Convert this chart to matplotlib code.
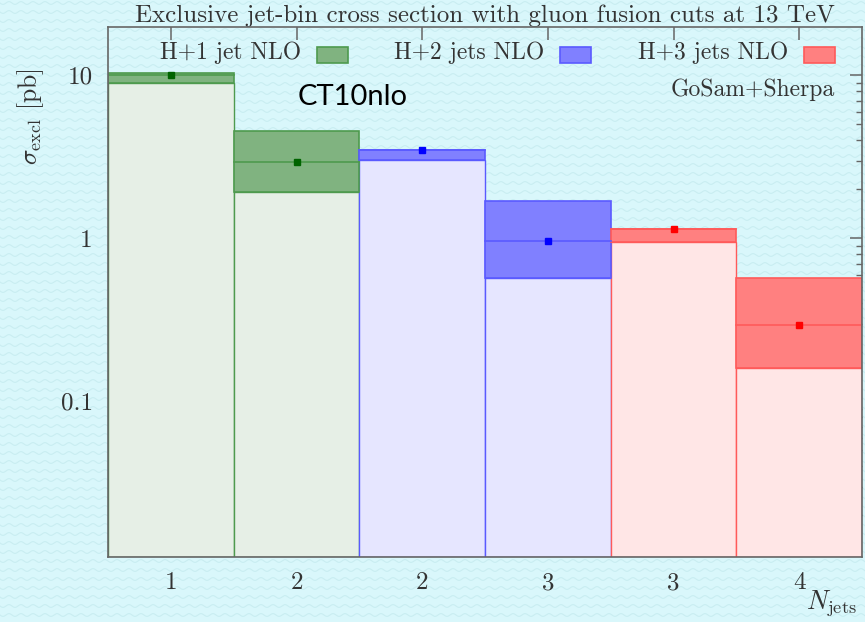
import numpy as np
import matplotlib
matplotlib.use("Agg")
import matplotlib.pyplot as plt
from matplotlib.patches import Rectangle
from matplotlib.ticker import FixedLocator, FixedFormatter, LogLocator, NullFormatter

plt.rcParams["font.family"] = ["cmr10", "DejaVu Serif"]
plt.rcParams["mathtext.fontset"] = "cm"
plt.rcParams["axes.unicode_minus"] = False

# data
bin_labels = ["1", "2", "2", "3", "3", "4"]
series_names = ["H+1 jet NLO", "H+2 jets NLO", "H+3 jets NLO"]
bin_series = [0, 0, 1, 1, 2, 2]
central = [10.07, 2.93, 3.48, 0.965, 1.14, 0.296]
upper = [10.4, 4.58, 3.49, 1.70, 1.135, 0.570]
lower = [9.03, 1.93, 3.03, 0.575, 0.956, 0.1605]

band_colors = ["#80b380", "#8080ff", "#ff8080"]
light_colors = ["#e6efe6", "#e6e6ff", "#ffe6e6"]
edge_colors = ["#4e9a4e", "#5a5aff", "#ff5a5a"]
mark_colors = ["#006400", "#0000ff", "#ff0000"]

ymin, ymax = 0.0111, 19.8

fig = plt.figure(figsize=(8.65, 6.22), dpi=100)
fig.patch.set_facecolor("#d9f7fb")

# wavy background
bg = fig.add_axes([0, 0, 1, 1], zorder=-5)
bg.set_xlim(0, 865)
bg.set_ylim(622, 0)
bg.axis("off")
xs = np.linspace(0, 865, 1200)
for y0 in np.arange(3, 630, 9):
    bg.plot(xs, y0 + 1.4 * np.sin(2 * np.pi * xs / 12.0), color="#c9edf1", lw=0.8)

ax = fig.add_axes([108 / 865, 1 - 557 / 622, 754 / 865, 530 / 622])
ax.patch.set_alpha(0)
ax.set_yscale("log")
ax.set_xlim(0, len(bin_labels))
ax.set_ylim(ymin, ymax)

for i, s in enumerate(bin_series):
    # light bar from bottom up to the band
    ax.add_patch(Rectangle((i, ymin), 1, lower[i] - ymin, facecolor=light_colors[s],
                           edgecolor=edge_colors[s], lw=1.0, zorder=2))
    # scale uncertainty band
    ax.add_patch(Rectangle((i, lower[i]), 1, upper[i] - lower[i], facecolor=band_colors[s],
                           edgecolor=edge_colors[s], lw=1.2, zorder=3))
    ax.plot([i, i + 1], [central[i], central[i]], color=edge_colors[s], lw=1.2, zorder=4)
    ax.plot(i + 0.5, central[i], marker="s", ms=5, color=mark_colors[s], zorder=5)

centers = np.arange(len(bin_labels)) + 0.5
ax.xaxis.set_major_locator(FixedLocator(centers))
ax.xaxis.set_major_formatter(FixedFormatter(bin_labels))
ax.yaxis.set_major_locator(FixedLocator([0.1, 1, 10]))
ax.yaxis.set_major_formatter(FixedFormatter(["0.1", "1", "10"]))
ax.yaxis.set_minor_locator(LogLocator(base=10, subs=np.arange(2, 10)))
ax.yaxis.set_minor_formatter(NullFormatter())

spine_c = "#666666"
for sp in ax.spines.values():
    sp.set_color(spine_c)
    sp.set_linewidth(1.2)
    sp.set_zorder(6)
ax.tick_params(which="both", direction="in", top=True, right=True, color=spine_c,
               labelsize=18, labelcolor="#333333")
ax.tick_params(which="major", length=9, width=1.1)
ax.tick_params(which="minor", length=4.5, width=1.0)
ax.tick_params(axis="x", pad=11)
ax.tick_params(axis="y", pad=11)

ax.set_title("Exclusive jet-bin cross section with gluon fusion cuts at 13 TeV",
             fontsize=18, color="#333333", pad=2)

# legend: label then patch
patch_x = [317, 560, 804]
for k, name in enumerate(series_names):
    px = (patch_x[k] - 108) / 754
    ax.text(px - 0.021, (557 - 53) / 530, name, transform=ax.transAxes, ha="right",
            va="center", fontsize=17, color="#333333", zorder=7)
    ax.add_patch(Rectangle((px, (557 - 63) / 530), 31 / 754, 16 / 530, transform=ax.transAxes,
                           facecolor=band_colors[k], edgecolor=edge_colors[k], lw=1.2, zorder=7))

ax.text((835 - 108) / 754, (557 - 90) / 530, "GoSam+Sherpa", transform=ax.transAxes,
        ha="right", va="center", fontsize=17, color="#333333")
ax.text((298 - 108) / 754, (557 - 97) / 530, "CT10nlo", transform=ax.transAxes,
        ha="left", va="center", fontsize=21, family=["Lato", "DejaVu Sans"], color="black")

ax.text((857 - 108) / 754, (557 - 603) / 530, r"$N_{\rm jets}$", transform=ax.transAxes,
        ha="right", va="center", fontsize=19, color="#333333")
fig.text(31 / 865, 1 - 117 / 622, r"$\sigma_{\rm excl}$ [pb]", rotation=90, ha="center",
         va="center", fontsize=18.5, color="#333333")

fig.savefig("out.png", dpi=100, facecolor=fig.get_facecolor())
